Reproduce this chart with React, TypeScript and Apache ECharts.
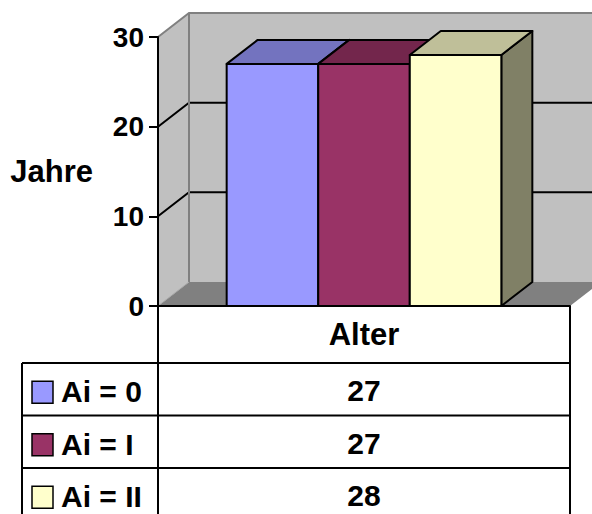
import React, { useEffect, useRef } from "react";
import * as echarts from "echarts";

// Chart data
const categories = ["Alter"];
const seriesNames = ["Ai = 0", "Ai = I", "Ai = II"];
const seriesValues = [27, 27, 28];
const yMin = 0;
const yMax = 30;
const yInterval = 10;
const axisTitle = "Jahre";

// Face colours: front, top, side
const frontColors = ["#9999ff", "#993366", "#ffffcc"];
const topColors = ["#7373bf", "#73264c", "#bfbf99"];
const sideColors = ["#7373bf", "#73264c", "#808066"];

const FONT = "'Liberation Sans', Arial, Helvetica, sans-serif";
const DEPTH_X = 31;
const DEPTH_Y = 24;
const CAT_GAP = 1 / 3;

// layout of the grid and data table
const GRID_LEFT = 158;
const GRID_RIGHT_X = 570;
const GRID_TOP = 37;
const GRID_BOTTOM_Y = 306;
const TABLE_LEFT = 22;
const TABLE_FIRST_ROW = 363;
const ROW_H = 52.5;
const H = 514;
const W = 592;

function wallsRenderItem(params: any, api: any) {
  const band = api.size([1, 0])[0];
  const c0 = api.coord([0, yMin]);
  const cTop = api.coord([0, yMax]);
  const L = c0[0] - band / 2;
  const R = c0[0] + band / 2;
  const B = c0[1];
  const T = cTop[1];
  const children: any[] = [
    {
      type: "rect",
      shape: { x: L + DEPTH_X, y: T - DEPTH_Y, width: band + 40, height: B - T },
      style: { fill: "#c0c0c0" },
    },
    {
      type: "polygon",
      shape: { points: [[L, T], [L + DEPTH_X, T - DEPTH_Y], [L + DEPTH_X, B - DEPTH_Y], [L, B]] },
      style: { fill: "#c0c0c0" },
    },
    {
      type: "polygon",
      shape: { points: [[L, B], [L + DEPTH_X, B - DEPTH_Y], [R + DEPTH_X, B - DEPTH_Y], [R, B]] },
      style: { fill: "#808080" },
    },
  ];
  for (let v = yMin + yInterval; v < yMax; v += yInterval) {
    const y = api.coord([0, v])[1];
    children.push({
      type: "polyline",
      shape: { points: [[L, y], [L + DEPTH_X, y - DEPTH_Y], [R + DEPTH_X + 40, y - DEPTH_Y]] },
      style: { stroke: "#000", lineWidth: 2, fill: null },
    });
  }
  children.push(
    {
      type: "polyline",
      shape: { points: [[L, T], [L + DEPTH_X, T - DEPTH_Y], [R + DEPTH_X + 40, T - DEPTH_Y]] },
      style: { stroke: "#808080", lineWidth: 2, fill: null },
    },
    {
      type: "line",
      shape: { x1: L + DEPTH_X, y1: T - DEPTH_Y, x2: L + DEPTH_X, y2: B - DEPTH_Y },
      style: { stroke: "#808080", lineWidth: 2 },
    },
    {
      type: "line",
      shape: { x1: L, y1: B, x2: L + DEPTH_X, y2: B - DEPTH_Y },
      style: { stroke: "#a8a8a8", lineWidth: 1 },
    }
  );
  return { type: "group", children };
}

function makeBarRenderItem(index: number) {
  return (params: any, api: any) => {
    const band = api.size([1, 0])[0];
    const cat = api.value(0);
    const base = api.coord([cat, yMin]);
    const top = api.coord([cat, api.value(1)]);
    const inner = band * (1 - CAT_GAP);
    const bw = inner / seriesValues.length;
    const x0 = base[0] - inner / 2 + index * bw;
    const x1 = x0 + bw;
    const yB = base[1];
    const yT = top[1];
    const edge = { stroke: "#000", lineWidth: 2, lineJoin: "round" };
    return {
      type: "group",
      children: [
        {
          type: "polygon",
          shape: { points: [[x1, yT], [x1 + DEPTH_X, yT - DEPTH_Y], [x1 + DEPTH_X, yB - DEPTH_Y], [x1, yB]] },
          style: { fill: sideColors[index], ...edge },
        },
        {
          type: "polygon",
          shape: { points: [[x0, yT], [x0 + DEPTH_X, yT - DEPTH_Y], [x1 + DEPTH_X, yT - DEPTH_Y], [x1, yT]] },
          style: { fill: topColors[index], ...edge },
        },
        {
          type: "rect",
          shape: { x: x0, y: yT, width: bw, height: yB - yT },
          style: { fill: frontColors[index], ...edge },
        },
      ],
    };
  };
}

function buildTable() {
  const els: any[] = [];
  const line = (x1: number, y1: number, x2: number, y2: number) => ({
    type: "line",
    shape: { x1, y1, x2, y2 },
    style: { stroke: "#000", lineWidth: 2 },
    z: 20,
  });
  const valueCenter = (GRID_LEFT + GRID_RIGHT_X) / 2;
  seriesNames.forEach((name, i) => {
    const top = TABLE_FIRST_ROW + i * ROW_H;
    const mid = top + ROW_H / 2;
    els.push(line(TABLE_LEFT, top, GRID_RIGHT_X, top));
    els.push({
      type: "rect",
      shape: { x: 32, y: mid - 11 + 3, width: 21, height: 22 },
      style: { fill: frontColors[i], stroke: "#000", lineWidth: 1.5 },
      z: 20,
    });
    els.push({
      type: "text",
      x: 61,
      y: mid + 2.5,
      style: {
        text: name,
        font: `bold 30px ${FONT}`,
        fill: "#000",
        textAlign: "left",
        textVerticalAlign: "middle",
      },
      z: 20,
    });
    els.push({
      type: "text",
      x: valueCenter,
      y: mid + 1.5,
      style: {
        text: String(seriesValues[i]),
        font: `bold 30px ${FONT}`,
        fill: "#000",
        textAlign: "center",
        textVerticalAlign: "middle",
      },
      z: 20,
    });
  });
  els.push(line(TABLE_LEFT, TABLE_FIRST_ROW, TABLE_LEFT, H + 2));
  els.push(line(GRID_LEFT, GRID_BOTTOM_Y, GRID_LEFT, H + 2));
  els.push(line(GRID_RIGHT_X, GRID_BOTTOM_Y, GRID_RIGHT_X, H + 2));
  return els;
}

export default function App() {
  const ref = useRef<HTMLDivElement>(null);
  useEffect(() => {
    if (!ref.current) return;
    const chart = echarts.init(ref.current, null, { renderer: "svg" });
    chart.setOption({
      animation: false,
      backgroundColor: "#ffffff",
      grid: {
        left: GRID_LEFT,
        right: W - GRID_RIGHT_X,
        top: GRID_TOP,
        bottom: H - GRID_BOTTOM_Y,
        containLabel: false,
      },
      xAxis: {
        type: "category",
        data: categories,
        z: 10,
        axisLine: { show: true, lineStyle: { color: "#000", width: 2 } },
        axisTick: { show: false },
        axisLabel: {
          color: "#000",
          fontFamily: FONT,
          fontWeight: "bold",
          fontSize: 31,
          margin: 13,
        },
      },
      yAxis: {
        type: "value",
        min: yMin,
        max: yMax,
        interval: yInterval,
        z: 10,
        name: axisTitle,
        nameLocation: "middle",
        nameRotate: 0,
        nameGap: 65,
        nameTextStyle: { color: "#000", fontFamily: FONT, fontWeight: "bold", fontSize: 31 },
        axisLine: { show: true, lineStyle: { color: "#000", width: 2 } },
        axisTick: { show: true, inside: false, length: 9, lineStyle: { color: "#000", width: 2 } },
        axisLabel: {
          color: "#000",
          fontFamily: FONT,
          fontWeight: "bold",
          fontSize: 28,
          margin: 14,
        },
        splitLine: { show: false },
      },
      series: [
        {
          type: "custom",
          name: "walls",
          z: 1,
          silent: true,
          data: [[0]],
          renderItem: wallsRenderItem,
        },
        ...seriesNames.map((name, i) => ({
          type: "custom",
          name,
          z: 2 + i,
          data: [[0, seriesValues[i]]],
          encode: { x: 0, y: 1 },
          renderItem: makeBarRenderItem(i),
        })),
      ],
      graphic: buildTable(),
    });
    return () => chart.dispose();
  }, []);
  return (
    <div
      ref={ref}
      style={{ position: "fixed", left: 0, top: 0, width: W, height: H }}
    />
  );
}
